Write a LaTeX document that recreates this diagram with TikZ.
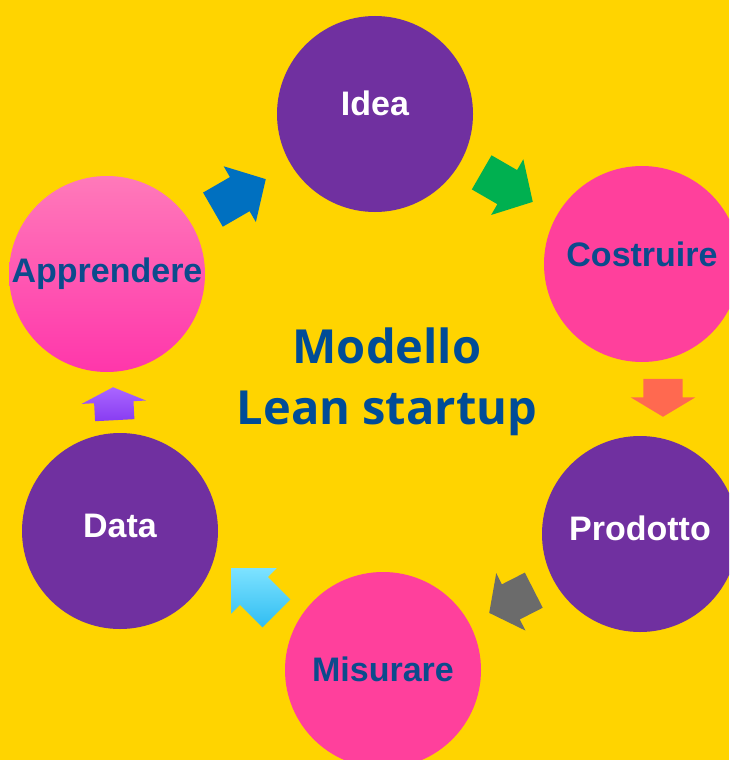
\documentclass[tikz,border=0pt]{standalone}
\usepackage{fontspec}
\setmainfont{Liberation Sans}
\newfontfamily\titlefont{Open Sans}
\usetikzlibrary{shapes.arrows}
\definecolor{bg}{HTML}{FFD400}
\definecolor{phasepurple}{HTML}{7030A0}
\definecolor{phasepink}{HTML}{FF409C}
\definecolor{labelblue}{HTML}{0B4B8C}
\definecolor{titleblue}{HTML}{004C97}
\begin{document}
\begin{tikzpicture}[x=1pt,y=1pt,
    phase/.style={circle,minimum size=196pt,inner sep=0pt,text height=24pt,
      font=\fontsize{34}{34}\selectfont\bfseries},
    purplephase/.style={phase,fill=phasepurple,text=white},
    pinkphase/.style={phase,fill=phasepink,text=labelblue},
    blockarrow/.style={single arrow,anchor=tip,inner xsep=0pt,inner ysep=19.5pt,
      single arrow head extend=12.5pt}]
  \clip (0,0) rectangle (729,-760);
  \fill[bg] (0,0) rectangle (729,-760);
  % the six phases
  \node[purplephase,text depth=22pt] (idea) at (375,-114) {Idea};
  \node[pinkphase,text depth=20pt] (costruire) at (642,-264) {Costruire};
  \node[purplephase,text depth=12pt] (prodotto) at (640,-534) {Prodotto};
  \node[pinkphase,text depth=2pt] (misurare) at (383,-670) {Misurare};
  \node[purplephase,text depth=12pt] (data) at (120,-531) {Data};
  \node[phase,text depth=8pt,text=labelblue,top color=phasepink!70!white,
    bottom color=phasepink!85!magenta] (apprendere) at (107,-274) {Apprendere};
  % arrows between them
  \node[blockarrow,fill={rgb,255:red,0;green,112;blue,192},single arrow tip angle=94,
    minimum height=61pt,rotate=30] (toidea) at (266,-179) {};
  \node[blockarrow,fill={rgb,255:red,0;green,176;blue,80},single arrow tip angle=95,
    minimum height=59pt,rotate=-30] (tocostruire) at (533,-202) {};
  \node[blockarrow,fill={rgb,255:red,255;green,105;blue,80},single arrow tip angle=118,
    minimum height=38pt,rotate=-90] (toprodotto) at (663,-417) {};
  \node[blockarrow,fill={rgb,255:red,107;green,107;blue,107},single arrow tip angle=106,
    minimum height=50pt,rotate=207] (tomisurare) at (489,-613) {};
  \node[blockarrow,top color={rgb,255:red,125;green,226;blue,255},
    bottom color={rgb,255:red,48;green,189;blue,242},single arrow tip angle=90,
    minimum height=64pt,rotate=135] (todata) at (231,-568) {};
  \node[blockarrow,top color={rgb,255:red,170;green,102;blue,255},
    bottom color={rgb,255:red,136;green,60;blue,242},single arrow tip angle=130,
    minimum height=33pt,rotate=93] (toapprendere) at (113,-387) {};
  % title
  \node[font=\titlefont\bfseries\fontsize{47}{61}\selectfont,text=titleblue,
    align=center] (title) at (387,-382) {Modello\\Lean startup};
\end{tikzpicture}
\end{document}
